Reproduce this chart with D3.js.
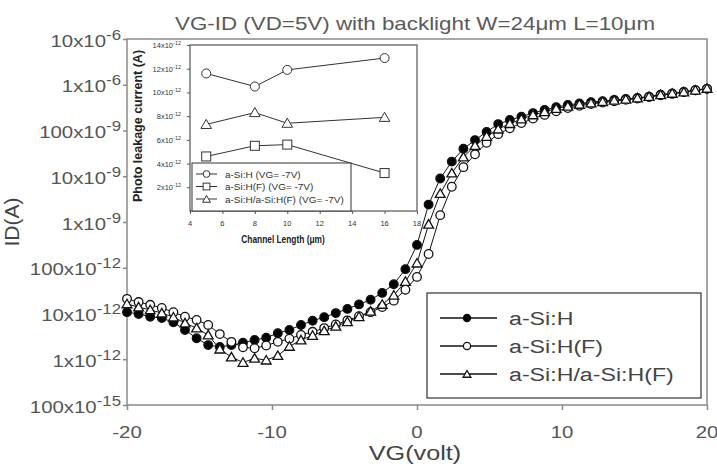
<!DOCTYPE html>
<html>
<head>
<meta charset="utf-8">
<script src="https://d3js.org/d3.v7.min.js"></script>
<style>
  body { margin: 0; background: #fff; }
  svg { display: block; font-family: "Liberation Sans", Arial, sans-serif; }
</style>
</head>
<body>
<div id="chart"></div>
<script>
// gate voltage sweep (V)
var vg = [-20, -19.2, -18.4, -17.6, -16.8, -16, -15.2, -14.4, -13.6, -12.8, -12, -11.2, -10.4, -9.6, -8.8, -8, -7.2, -6.4, -5.6, -4.8, -4, -3.2, -2.4, -1.6, -0.8,
          0, 0.8, 1.6, 2.4, 3.2, 4, 4.8, 5.6, 6.4, 7.2, 8, 8.8, 9.6, 10.4, 11.2, 12, 12.8, 13.6, 14.4, 15.2, 16, 16.8, 17.6, 18.4, 19.2, 20];

// drain current (A)
var idSiH = [1.07e-11, 9.77e-12, 8.51e-12, 7.94e-12, 6.46e-12, 4.37e-12, 2.88e-12, 2.04e-12, 1.86e-12, 2.04e-12, 2.29e-12, 2.63e-12, 2.95e-12,
             3.72e-12, 4.37e-12, 5.62e-12, 6.92e-12, 8.32e-12, 1.02e-11, 1.26e-11, 1.58e-11, 2.0e-11, 2.82e-11, 4.37e-11, 9.33e-11,
             3.16e-10, 2.40e-9, 8.91e-9, 2.09e-8, 3.98e-8, 6.17e-8, 9.33e-8, 1.38e-7, 1.70e-7, 2.0e-7, 2.40e-7, 2.82e-7, 3.24e-7, 3.63e-7,
             3.89e-7, 4.17e-7, 4.37e-7, 4.68e-7, 4.90e-7, 5.13e-7, 5.50e-7, 6.03e-7, 6.46e-7, 6.92e-7, 7.59e-7, 8.13e-7];
var idSiHF = [2.09e-11, 1.78e-11, 1.55e-11, 1.32e-11, 1.07e-11, 8.51e-12, 7.24e-12, 5.62e-12, 3.55e-12, 2.40e-12, 1.82e-12, 1.74e-12, 2.0e-12,
              2.40e-12, 2.82e-12, 3.39e-12, 3.98e-12, 4.79e-12, 5.75e-12, 7.08e-12, 8.71e-12, 1.07e-11, 1.38e-11, 1.91e-11, 3.31e-11,
              6.31e-11, 2.0e-10, 1.41e-9, 5.89e-9, 1.58e-8, 3.02e-8, 5.37e-8, 8.32e-8, 1.12e-7, 1.45e-7, 1.82e-7, 2.19e-7, 2.63e-7, 3.09e-7,
              3.47e-7, 3.80e-7, 4.07e-7, 4.37e-7, 4.68e-7, 5.01e-7, 5.37e-7, 5.89e-7, 6.31e-7, 6.92e-7, 7.59e-7, 8.13e-7];
var idStack = [1.62e-11, 1.38e-11, 1.20e-11, 1.02e-11, 8.32e-12, 6.17e-12, 4.79e-12, 3.39e-12, 1.66e-12, 1.12e-12, 8.51e-13, 1.05e-12, 9.55e-13,
               1.20e-12, 1.91e-12, 2.63e-12, 3.31e-12, 4.17e-12, 5.25e-12, 6.61e-12, 8.51e-12, 1.12e-11, 1.58e-11, 2.51e-11, 5.01e-11,
               1.26e-10, 8.91e-10, 4.17e-9, 1.17e-8, 2.63e-8, 4.68e-8, 7.41e-8, 1.07e-7, 1.41e-7, 1.78e-7, 2.19e-7, 2.57e-7, 3.02e-7, 3.39e-7,
               3.72e-7, 3.98e-7, 4.27e-7, 4.57e-7, 4.79e-7, 5.13e-7, 5.50e-7, 6.03e-7, 6.46e-7, 6.92e-7, 7.59e-7, 8.32e-7];

var seriesNames = ["a-Si:H", "a-Si:H(F)", "a-Si:H/a-Si:H(F)"];

var xTicks = [-20, -10, 0, 10, 20];
var yTicks = [1e-5, 1e-6, 1e-7, 1e-8, 1e-9, 1e-10, 1e-11, 1e-12, 1e-13];
var yTickBase = ["10x10", "1x10", "100x10", "10x10", "1x10", "100x10", "10x10", "1x10", "100x10"];
var yTickExp = ["-6", "-6", "-9", "-9", "-9", "-12", "-12", "-12", "-15"];

// inset: photo leakage current vs channel length
var insetL = [5, 8, 10, 16];
var insetSiH = [11.6e-12, 10.5e-12, 11.9e-12, 12.9e-12];
var insetSiHF = [4.6e-12, 5.5e-12, 5.6e-12, 3.2e-12];
var insetStack = [7.3e-12, 8.3e-12, 7.4e-12, 7.9e-12];
var insetNames = ["a-Si:H (VG= -7V)", "a-Si:H(F) (VG= -7V)", "a-Si:H/a-Si:H(F) (VG= -7V)"];
var insetXTicks = [4, 6, 8, 10, 12, 14, 16, 18];
var insetYTicks = [2e-12, 4e-12, 6e-12, 8e-12, 10e-12, 12e-12, 14e-12];
var insetYBase = ["2x10", "4x10", "6x10", "8x10", "10x10", "12x10", "14x10"];

var svg = d3.select("#chart").append("svg")
    .attr("width", 717)
    .attr("height", 474);

var x = d3.scaleLinear().domain([-20, 20]).range([127, 707]);
var y = d3.scaleLog().domain([1e-13, 1e-5]).range([405, 39]);

// text stretched sideways like the scanned figure
function label(g, px, py, sx, size, anchor, color) {
    return g.append("text")
        .attr("transform", "translate(" + px + "," + py + ") scale(" + sx + ",1)")
        .attr("text-anchor", anchor)
        .attr("font-size", size)
        .attr("fill", color);
}

// frame
svg.append("rect")
    .attr("x", x(-20)).attr("y", y(1e-5))
    .attr("width", x(20) - x(-20)).attr("height", y(1e-13) - y(1e-5))
    .attr("fill", "none").attr("stroke", "#8a8a8a").attr("stroke-width", 1.5);

// y ticks + labels
svg.append("g")
    .attr("transform", "translate(" + x(-20) + ",0)")
    .call(d3.axisLeft(y).tickValues(yTicks).tickFormat("").tickSize(4).tickSizeOuter(0))
    .call(function(g) { g.select(".domain").remove(); g.selectAll("line").attr("stroke", "#8a8a8a").attr("stroke-width", 1.5); });

yTicks.forEach(function(v, i) {
    var t = label(svg, 121, y(v) + 7.5, 1.2, 17, "end", "#555");
    t.append("tspan").text(yTickBase[i]);
    t.append("tspan").attr("dy", -7).attr("font-size", 14).text(yTickExp[i]);
});

// x ticks + labels
svg.append("g")
    .attr("transform", "translate(0," + y(1e-13) + ")")
    .call(d3.axisBottom(x).tickValues(xTicks).tickFormat("").tickSize(5).tickSizeOuter(0))
    .call(function(g) { g.select(".domain").remove(); g.selectAll("line").attr("stroke", "#8a8a8a").attr("stroke-width", 1.5); });

xTicks.forEach(function(v) {
    label(svg, x(v), 438, 1.2, 17, "middle", "#555").text(v);
});

// titles
label(svg, 415, 30, 1.21, 18.5, "middle", "#5a5a5a").text("VG-ID (VD=5V) with backlight W=24\u03bcm L=10\u03bcm");
label(svg, 415, 460, 1.2, 21, "middle", "#444").text("VG(volt)");
svg.append("text")
    .attr("transform", "translate(19,222) rotate(-90)")
    .attr("text-anchor", "middle")
    .attr("font-size", 21)
    .attr("fill", "#444")
    .text("ID(A)");

// curves
var line = d3.line().x(function(d) { return x(d[0]); }).y(function(d) { return y(d[1]); });
var tri = d3.symbol().type(d3.symbolTriangle).size(42);
var triSmall = d3.symbol().type(d3.symbolTriangle).size(26);

function drawMarker(g, type, cx, cy, small) {
    if (type === "tri") {
        g.append("path").attr("d", small ? triSmall() : tri())
            .attr("transform", "translate(" + cx + "," + (cy + 1) + ")")
            .attr("fill", "#fff").attr("stroke", "#111").attr("stroke-width", 1.3);
    } else {
        g.append("circle").attr("cx", cx).attr("cy", cy).attr("r", small ? 3.6 : 4.3)
            .attr("fill", type === "filled" ? "#000" : "#fff")
            .attr("stroke", "#111").attr("stroke-width", 1.3);
    }
}

var allSeries = [[idSiH, "filled"], [idSiHF, "open"], [idStack, "tri"]];
var curves = svg.append("g");
allSeries.forEach(function(s) {
    var pts = vg.map(function(v, i) { return [v, s[0][i]]; });
    curves.append("path").attr("d", line(pts))
        .attr("fill", "none").attr("stroke", "#111").attr("stroke-width", 1);
});
allSeries.forEach(function(s) {
    vg.forEach(function(v, i) { drawMarker(curves, s[1], x(v), y(s[0][i]), false); });
});

// main legend
var lg = svg.append("g");
lg.append("rect").attr("x", 427).attr("y", 293).attr("width", 274).attr("height", 105)
    .attr("fill", "#fff").attr("stroke", "#333").attr("stroke-width", 1.2);
seriesNames.forEach(function(name, i) {
    var ry = 318 + i * 28;
    lg.append("line").attr("x1", 440).attr("x2", 497).attr("y1", ry).attr("y2", ry)
        .attr("stroke", "#111").attr("stroke-width", 1.5);
    drawMarker(lg, allSeries[i][1], 467, ry, true);
    label(lg, 509, ry + 7, 1.22, 19, "start", "#444").text(name);
});

// ---- inset ----
var ix = d3.scaleLinear().domain([4, 18]).range([190, 417]);
var iy = d3.scaleLinear().domain([0, 14e-12]).range([211, 45]);
var inset = svg.append("g");

inset.append("rect").attr("x", 190).attr("y", 45).attr("width", 227).attr("height", 166)
    .attr("fill", "#fff").attr("stroke", "#555").attr("stroke-width", 1.2);

inset.append("g")
    .attr("transform", "translate(190,0)")
    .call(d3.axisLeft(iy).tickValues(insetYTicks).tickFormat("").tickSize(3).tickSizeOuter(0))
    .call(function(g) { g.select(".domain").remove(); g.selectAll("line").attr("stroke", "#555"); });
inset.append("g")
    .attr("transform", "translate(0,211)")
    .call(d3.axisBottom(ix).tickValues(insetXTicks).tickFormat("").tickSize(3).tickSizeOuter(0))
    .call(function(g) { g.select(".domain").remove(); g.selectAll("line").attr("stroke", "#555"); });

insetYTicks.forEach(function(v, i) {
    var t = label(inset, 181, iy(v) + 3, 1.0, 7.5, "end", "#333");
    t.append("tspan").text(insetYBase[i]);
    t.append("tspan").attr("dy", -3).attr("font-size", 5.5).text("-12");
});
insetXTicks.forEach(function(v) {
    label(inset, ix(v), 226, 1.0, 7.5, "middle", "#333").text(v);
});

label(inset, 283, 243, 0.76, 11, "middle", "#222").attr("font-weight", "bold").text("Channel Length (\u03bcm)");
inset.append("text")
    .attr("transform", "translate(142,126) rotate(-90)")
    .attr("text-anchor", "middle")
    .attr("font-size", 12.5)
    .attr("font-weight", "bold")
    .attr("fill", "#222")
    .text("Photo leakage current (A)");

var iline = d3.line().x(function(d) { return ix(d[0]); }).y(function(d) { return iy(d[1]); });
var insetSeries = [[insetSiH, "circle"], [insetSiHF, "square"], [insetStack, "tri"]];

function insetMarker(g, type, cx, cy, s) {
    if (type === "circle") {
        g.append("circle").attr("cx", cx).attr("cy", cy).attr("r", 4.5 * s)
            .attr("fill", "#fff").attr("stroke", "#333").attr("stroke-width", 1);
    } else if (type === "square") {
        g.append("rect").attr("x", cx - 4.5 * s).attr("y", cy - 4.5 * s)
            .attr("width", 9 * s).attr("height", 9 * s)
            .attr("fill", "#fff").attr("stroke", "#333").attr("stroke-width", 1);
    } else {
        g.append("path").attr("d", d3.symbol().type(d3.symbolTriangle).size(48 * s * s)())
            .attr("transform", "translate(" + cx + "," + (cy + 1) + ")")
            .attr("fill", "#fff").attr("stroke", "#333").attr("stroke-width", 1);
    }
}

insetSeries.forEach(function(s) {
    var pts = insetL.map(function(l, i) { return [l, s[0][i]]; });
    inset.append("path").attr("d", iline(pts))
        .attr("fill", "none").attr("stroke", "#333").attr("stroke-width", 1);
});

// inset legend sits over the lines
var il = inset.append("g");
il.append("rect").attr("x", 192).attr("y", 163).attr("width", 159).attr("height", 48)
    .attr("fill", "#fff").attr("stroke", "#333").attr("stroke-width", 1);
insetNames.forEach(function(name, i) {
    var ry = 174 + i * 12.5;
    il.append("line").attr("x1", 196).attr("x2", 217).attr("y1", ry).attr("y2", ry)
        .attr("stroke", "#333").attr("stroke-width", 1);
    insetMarker(il, insetSeries[i][1], 206.5, ry, 0.75);
    label(il, 225, ry + 3.5, 1.05, 9.5, "start", "#333").text(name);
});

insetSeries.forEach(function(s) {
    insetL.forEach(function(l, i) { insetMarker(inset, s[1], ix(l), iy(s[0][i]), 1); });
});
</script>
</body>
</html>
